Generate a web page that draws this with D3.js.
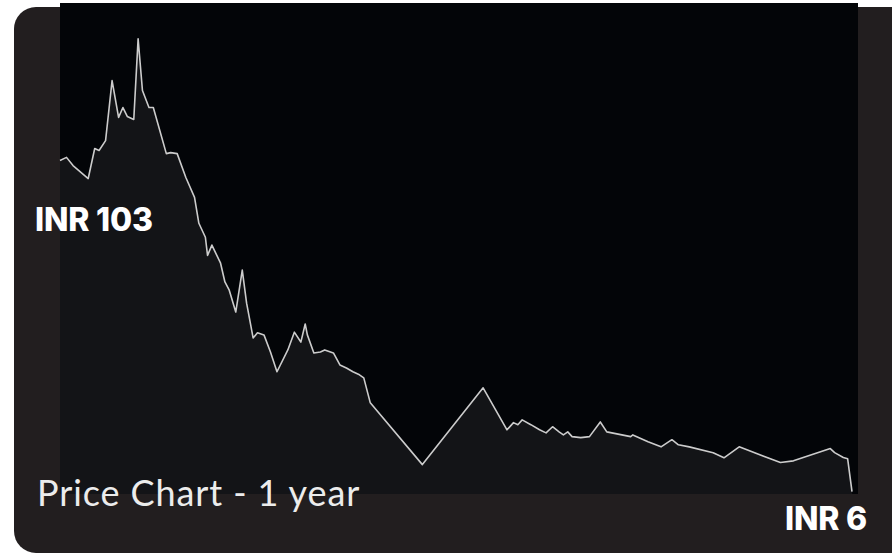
<!DOCTYPE html>
<html>
<head>
<meta charset="utf-8">
<script src="https://cdn.jsdelivr.net/npm/d3@7"></script>
<style>
  html, body { margin: 0; padding: 0; background: #ffffff; }
  svg { display: block; }
</style>
</head>
<body>
<svg id="chart" width="892" height="556"></svg>
<script>
// day of the year (0..365) and price in INR
const days = [0, 3, 6, 13, 16, 18, 21, 24, 27, 29, 31, 34, 36, 38, 41, 43, 49, 51, 54, 58,
  62, 64, 67, 68, 70, 74, 76, 78, 81, 84, 86, 89, 91, 94, 97, 100, 105, 108, 111, 113,
  114, 117, 120, 122, 126, 129, 132, 135, 138, 140, 143, 167, 195, 206, 209, 211, 213, 217, 221, 224,
  227, 230, 232, 234, 236, 240, 244, 249, 252, 263, 264, 271, 277, 282, 285, 290, 301, 306, 313, 332,
  338, 355, 357, 361, 363, 365];
const prices = [103.0, 103.9, 101.5, 97.7, 106.5, 105.9, 108.8, 126.4, 115.6, 118.5, 115.9, 115.0, 138.6, 123.5, 118.5, 118.5, 105.0, 105.3, 105.0, 98.0,
  92.2, 84.6, 80.5, 75.2, 78.2, 72.9, 67.4, 65.0, 58.6, 70.9, 61.2, 51.0, 52.5, 51.9, 46.9, 41.1, 47.5, 52.7, 49.8, 55.1,
  51.9, 46.6, 46.9, 47.5, 46.6, 43.1, 42.2, 41.1, 40.2, 39.3, 32.0, 13.9, 36.4, 24.1, 26.2, 25.6, 27.0, 25.6, 24.1, 23.2,
  25.0, 23.5, 22.6, 23.5, 22.1, 21.8, 22.1, 26.4, 23.5, 22.1, 22.6, 20.6, 19.1, 21.2, 19.7, 19.1, 17.4, 15.9, 19.1, 14.5,
  15.0, 18.6, 17.4, 16.0, 15.6, 6.0];

const title = "Price Chart - 1 year";
const currency = "INR";

const data = days.map((d, i) => ({ day: d, price: prices[i] }));

const svg = d3.select("#chart");

// card
svg.append("rect")
  .attr("x", 14).attr("y", 7)
  .attr("width", 910).attr("height", 546)
  .attr("rx", 22)
  .attr("fill", "#221e1f");

// plot panel
const plot = { left: 60, right: 858, top: 3, bottom: 494 };
svg.append("rect")
  .attr("x", plot.left).attr("y", plot.top)
  .attr("width", plot.right - plot.left).attr("height", plot.bottom - plot.top)
  .attr("fill", "#030508");

const x = d3.scaleLinear().domain([0, 365]).range([plot.left, 852]);
const y = d3.scaleLinear().domain([5, 150]).range([495, 0]);

const area = d3.area()
  .x(d => x(d.day))
  .y0(plot.bottom)
  .y1(d => Math.min(y(d.price), plot.bottom));

const line = d3.line()
  .x(d => x(d.day))
  .y(d => y(d.price));

svg.append("path")
  .datum(data)
  .attr("d", area)
  .attr("fill", "#fff2f2")
  .attr("fill-opacity", 0.065);

svg.append("path")
  .datum(data)
  .attr("d", line)
  .attr("fill", "none")
  .attr("stroke", "#cccccc")
  .attr("stroke-width", 1.6)
  .attr("stroke-linejoin", "round");

// labels
const first = data[0], last = data[data.length - 1];

svg.append("text")
  .attr("x", 35).attr("y", 231)
  .attr("font-family", "Inter, sans-serif")
  .attr("font-weight", 800)
  .attr("font-size", 32)
  .attr("letter-spacing", -0.2)
  .attr("fill", "#ffffff")
  .text(`${currency} ${Math.round(first.price)}`);

svg.append("text")
  .attr("x", 867).attr("y", 530)
  .attr("text-anchor", "end")
  .attr("font-family", "Inter, sans-serif")
  .attr("font-weight", 800)
  .attr("font-size", 32)
  .attr("letter-spacing", -0.2)
  .attr("fill", "#ffffff")
  .text(`${currency} ${Math.round(last.price)}`);

svg.append("text")
  .attr("x", 37).attr("y", 506)
  .attr("font-family", "Lato, sans-serif")
  .attr("font-weight", 400)
  .attr("font-size", 36)
  .attr("letter-spacing", 0.9)
  .attr("fill", "#ececec")
  .text(title);
</script>
</body>
</html>
